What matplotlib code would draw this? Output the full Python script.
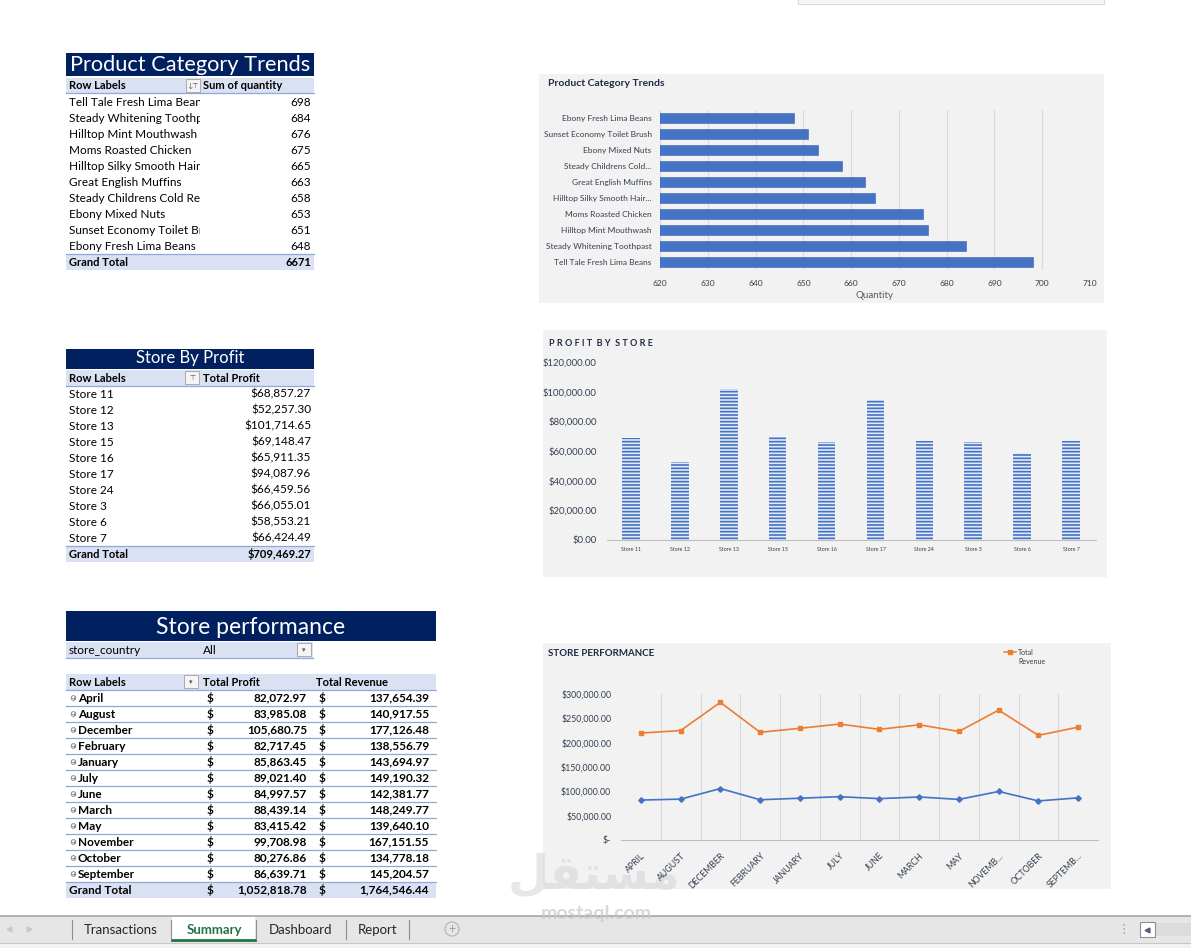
import matplotlib.pyplot as plt
from matplotlib.patches import Rectangle, Circle

plt.rcParams['font.family'] = ['Lato', 'DejaVu Sans']
plt.rcParams['hatch.linewidth'] = 1.2

W, H = 1191, 948

# ---- data ----
products = ["Tell Tale Fresh Lima Beans", "Steady Whitening Toothpaste", "Hilltop Mint Mouthwash",
            "Moms Roasted Chicken", "Hilltop Silky Smooth Hair Conditioner", "Great English Muffins",
            "Steady Childrens Cold Remedy", "Ebony Mixed Nuts", "Sunset Economy Toilet Brush",
            "Ebony Fresh Lima Beans"]
quantities = [698, 684, 676, 675, 665, 663, 658, 653, 651, 648]
product_ticks = ["Tell Tale Fresh Lima Beans", "Steady Whitening Toothpast", "Hilltop Mint Mouthwash",
                 "Moms Roasted Chicken", "Hilltop Silky Smooth Hair...", "Great English Muffins",
                 "Steady Childrens Cold...", "Ebony Mixed Nuts", "Sunset Economy Toilet Brush",
                 "Ebony Fresh Lima Beans"]
qty_ticks = [620, 630, 640, 650, 660, 670, 680, 690, 700, 710]

stores = ["Store 11", "Store 12", "Store 13", "Store 15", "Store 16", "Store 17",
          "Store 24", "Store 3", "Store 6", "Store 7"]
store_profit = [68857.27, 52257.30, 101714.65, 69148.47, 65911.35, 94087.96,
                66459.56, 66055.01, 58553.21, 66424.49]
profit_ticks = [0, 20000, 40000, 60000, 80000, 100000, 120000]

months = ["April", "August", "December", "February", "January", "July", "June",
          "March", "May", "November", "October", "September"]
month_profit = [82072.97, 83985.08, 105680.75, 82717.45, 85863.45, 89021.40, 84997.57,
                88439.14, 83415.42, 99708.98, 80276.86, 86639.71]
month_revenue = [137654.39, 140917.55, 177126.48, 138556.79, 143694.97, 149190.32, 142381.77,
                 148249.77, 139640.10, 167151.55, 134778.18, 145204.57]
month_ticks = ["APRIL", "AUGUST", "DECEMBER", "FEBRUARY", "JANUARY", "JULY", "JUNE",
               "MARCH", "MAY", "NOVEMB...", "OCTOBER", "SEPTEMB..."]
perf_ticks = [0, 50000, 100000, 150000, 200000, 250000, 300000]

NAVY = '#002060'
LBLUE = '#D9E1F2'
BORDER = '#8EA9DB'
BLUE = '#4472C4'
ORANGE = '#ED7D31'
TXT = '#1F2A44'
TICK = '#333F50'

fig = plt.figure(figsize=(W / 100, H / 100), dpi=100)
fig.patch.set_facecolor('white')

bg = fig.add_axes([0, 0, 1, 1])
bg.set_xlim(0, W)
bg.set_ylim(H, 0)
bg.axis('off')


def px_axes(x0, y0, x1, y1):
    return fig.add_axes([x0 / W, 1 - y1 / H, (x1 - x0) / W, (y1 - y0) / H])


def box(x0, y0, x1, y1, fc, ec='none', lw=0, z=1):
    bg.add_patch(Rectangle((x0, y0), x1 - x0, y1 - y0, facecolor=fc, edgecolor=ec, linewidth=lw, zorder=z))


def hline(x0, x1, y, c=BORDER, lw=0.9):
    bg.plot([x0, x1], [y, y], color=c, lw=lw, zorder=3)


def dropdown(x0, y0, sym='\u25be'):
    box(x0, y0, x0 + 14, y0 + 13, '#F4F4F4', '#A0A0A0', 0.6, z=3)
    bg.text(x0 + 7, y0 + 6.5, sym, fontsize=5, color='#555555', ha='center', va='center', zorder=4)


# top-right partial chart box
box(798, -5, 1104, 4, '#F7F7F7', '#DADADA', 0.8)

# ---- table 1 ----
box(66, 53, 314, 76, NAVY)
bg.text(190, 64.5, "Product Category Trends", color='white', fontsize=15.7, ha='center', va='center', zorder=4)
box(66, 78, 314, 93, LBLUE)
hline(66, 314, 93)
bg.text(69, 85.5, "Row Labels", fontsize=8, weight='bold', va='center', zorder=4)
dropdown(186, 79, '\u2193\u22a4')
bg.text(203, 85.5, "Sum of quantity", fontsize=8, weight='bold', va='center', zorder=4)
clip1 = Rectangle((66, 94), 134, 170, transform=bg.transData)
for i, (p, q) in enumerate(zip(products, quantities)):
    y = 102 + 16 * i
    t = bg.text(69, y, p, fontsize=8.5, va='center', zorder=4)
    t.set_clip_path(clip1)
    t.set_clip_on(True)
    bg.text(311, y, str(q), fontsize=8.5, ha='right', va='center', zorder=4)
box(66, 254, 314, 270, LBLUE)
hline(66, 314, 254)
bg.text(69, 262, "Grand Total", fontsize=8, weight='bold', va='center', zorder=4)
bg.text(311, 262, str(sum(quantities)), fontsize=8, weight='bold', ha='right', va='center', zorder=4)

# ---- table 2 ----
box(66, 349, 314, 369, NAVY)
bg.text(190, 358.5, "Store By Profit", color='white', fontsize=12, ha='center', va='center', zorder=4)
box(66, 370, 314, 386, LBLUE)
hline(66, 314, 386)
bg.text(69, 378, "Row Labels", fontsize=8, weight='bold', va='center', zorder=4)
dropdown(185, 371, '\u22a4')
bg.text(203, 378, "Total Profit", fontsize=8, weight='bold', va='center', zorder=4)
for i, (s, v) in enumerate(zip(stores, store_profit)):
    y = 394 + 16 * i
    bg.text(69, y, s, fontsize=8.5, va='center', zorder=4)
    bg.text(311, y, "${:,.2f}".format(v), fontsize=8.5, ha='right', va='center', zorder=4)
box(66, 546, 314, 562, LBLUE)
hline(66, 314, 546)
bg.text(69, 554, "Grand Total", fontsize=8, weight='bold', va='center', zorder=4)
bg.text(311, 554, "${:,.2f}".format(round(sum(store_profit), 2)), fontsize=8, weight='bold',
        ha='right', va='center', zorder=4)

# ---- table 3 ----
box(66, 611, 436, 641, NAVY)
bg.text(251, 627, "Store performance", color='white', fontsize=16.5, ha='center', va='center', zorder=4)
box(66, 642, 313, 658, LBLUE)
hline(66, 313, 658)
bg.text(69, 650, "store_country", fontsize=8.5, va='center', zorder=4)
bg.text(203, 650, "All", fontsize=8.5, va='center', zorder=4)
dropdown(297, 643)
box(66, 674, 436, 690, LBLUE)
hline(66, 436, 690)
bg.text(69, 682, "Row Labels", fontsize=8, weight='bold', va='center', zorder=4)
dropdown(184, 675)
bg.text(203, 682, "Total Profit", fontsize=8, weight='bold', va='center', zorder=4)
bg.text(316, 682, "Total Revenue", fontsize=8, weight='bold', va='center', zorder=4)
for i, m in enumerate(months):
    y = 698 + 16 * i
    bg.add_patch(Circle((73.5, y), 2.3, facecolor='none', edgecolor='#777777', lw=0.6, zorder=4))
    bg.plot([72.3, 74.7], [y, y], color='#777777', lw=0.5, zorder=4)
    bg.plot([73.5, 73.5], [y - 1.2, y + 1.2], color='#777777', lw=0.5, zorder=4)
    bg.text(78, y, m, fontsize=8.5, weight='bold', va='center', zorder=4)
    bg.text(207, y, "$", fontsize=8.5, weight='bold', va='center', zorder=4)
    bg.text(307, y, "{:,.2f}".format(month_profit[i]), fontsize=8.5, weight='bold', ha='right', va='center',
            zorder=4)
    bg.text(319, y, "$", fontsize=8.5, weight='bold', va='center', zorder=4)
    bg.text(429, y, "{:,.2f}".format(month_revenue[i]), fontsize=8.5, weight='bold', ha='right', va='center',
            zorder=4)
    hline(66, 436, y + 8)
box(66, 882, 436, 898, LBLUE)
bg.text(69, 890, "Grand Total", fontsize=8.5, weight='bold', va='center', zorder=4)
bg.text(207, 890, "$", fontsize=8.5, weight='bold', va='center', zorder=4)
bg.text(307, 890, "{:,.2f}".format(round(sum(month_profit), 2)), fontsize=8.5, weight='bold',
        ha='right', va='center', zorder=4)
bg.text(319, 890, "$", fontsize=8.5, weight='bold', va='center', zorder=4)
bg.text(429, 890, "{:,.2f}".format(round(sum(month_revenue), 2)), fontsize=8.5, weight='bold',
        ha='right', va='center', zorder=4)

# ---- chart 1: product category trends ----
box(539, 74, 1104, 303, '#F2F2F2')
bg.text(548, 83, "Product Category Trends", fontsize=7.5, weight='bold', color=TXT, va='center', zorder=4)
ax1 = px_axes(660, 110, 1090, 270)
ax1.set_facecolor('none')
ax1.barh(range(len(quantities)), quantities, height=0.58, color=BLUE, edgecolor='#3A62AE', linewidth=0.4,
         zorder=3)
ax1.set_xlim(620, 710)
ax1.set_ylim(-0.5, len(quantities) - 0.5)
ax1.set_xticks(qty_ticks)
ax1.set_yticks(range(len(product_ticks)))
ax1.set_yticklabels(product_ticks)
ax1.grid(axis='x', color='#D9D9D9', lw=0.8, zorder=0)
for sp in ax1.spines.values():
    sp.set_visible(False)
ax1.tick_params(length=0, labelsize=6, colors=TICK, pad=6)
ax1.tick_params(axis='x', pad=7)
ax1.set_xlabel("Quantity", fontsize=7, color='#595959', labelpad=3)

# ---- chart 2: profit by store ----
box(543, 330, 1107, 577, '#F2F2F2')
bg.text(549, 343, "P R O F I T  B Y  S T O R E", fontsize=6.5, weight='bold',
        color=TXT, va='center', zorder=4)
ax2 = px_axes(606.5, 362, 1095.5, 540)
ax2.set_facecolor('none')
ax2.bar(range(len(store_profit)), store_profit, width=0.36, color='#E4EAF6', edgecolor=BLUE,
        hatch='-----', linewidth=0, zorder=3)
ax2.set_xlim(-0.5, len(stores) - 0.5)
ax2.set_ylim(0, 120000)
ax2.set_yticks(profit_ticks)
ax2.set_yticklabels(["${:,.2f}".format(v) for v in profit_ticks])
ax2.set_xticks(range(len(stores)))
ax2.set_xticklabels(stores)
for k in ['top', 'right', 'left']:
    ax2.spines[k].set_visible(False)
ax2.spines['bottom'].set_color('#BFBFBF')
ax2.tick_params(length=0, colors=TICK)
ax2.tick_params(axis='y', labelsize=6.8, pad=7)
ax2.tick_params(axis='x', labelsize=3.8, pad=5)

# ---- chart 3: store performance ----
box(543, 643, 1111, 889, '#F2F2F2')
bg.text(548, 654, "STORE PERFORMANCE", fontsize=7, weight='bold', color=TXT, va='center', zorder=4)
ax3 = px_axes(621, 694, 1098, 840)
ax3.set_facecolor('none')
x = range(len(months))
stacked = [p + r for p, r in zip(month_profit, month_revenue)]
ax3.plot(x, month_profit, color=BLUE, lw=1.2, marker='D', ms=2.8, zorder=3)
ax3.plot(x, stacked, color=ORANGE, lw=1.2, marker='s', ms=3.2, zorder=3)
ax3.set_xlim(-0.5, len(months) - 0.5)
ax3.set_ylim(0, 300000)
ax3.set_yticks(perf_ticks)
ax3.set_yticklabels(["$-" if v == 0 else "${:,.2f}".format(v) for v in perf_ticks])
ax3.set_xticks(list(x))
ax3.set_xticklabels(month_ticks, rotation=45, ha='right', rotation_mode='anchor')
for g in range(len(months)):
    ax3.axvline(g + 0.5, color='#D9D9D9', lw=0.8, zorder=0)
for k in ['top', 'right', 'left']:
    ax3.spines[k].set_visible(False)
ax3.spines['bottom'].set_color('#BFBFBF')
ax3.tick_params(length=0, colors=TICK)
ax3.tick_params(axis='y', labelsize=6.3, pad=7)
ax3.tick_params(axis='x', labelsize=6.3, pad=8)

# legend (only the revenue entry is visible in the chart)
bg.plot([1004, 1016], [652, 652], color=ORANGE, lw=1.1, zorder=5)
bg.plot([1010], [652], color=ORANGE, marker='s', ms=3, zorder=5)
bg.text(1018, 652.5, "Total", fontsize=5, color=TICK, va='center', zorder=5)
bg.text(1018, 662, "Revenue", fontsize=5, color=TICK, va='center', zorder=5)

# ---- watermark ----
bg.text(594, 876, "\uFEDE\uFED8\uFE98\uFEB4\uFEE3", family='DejaVu Sans', fontsize=34, weight='bold',
        color='#D4D4D4', alpha=0.55, ha='center', va='center', zorder=6)
bg.text(596, 913, "mostaql.com", fontsize=14, color='#C8C8C8', alpha=0.7, ha='center', va='center',
        weight='bold', zorder=6)

# ---- sheet tab bar ----
box(0, 916, W, 943, '#E6E6E6', z=2)
box(0, 943, W, H, '#F3F3F3', z=2)
hline(0, W, 916, c='#A6A6A6', lw=1.2)
hline(0, W, 943, c='#C8C8C8', lw=0.8)
bg.plot([9], [929], marker='<', ms=3.5, color='#C8C8C8', zorder=4)
bg.plot([29], [929], marker='>', ms=3.5, color='#C8C8C8', zorder=4)
box(172, 917, 255, 941, 'white', z=3)
bg.plot([172, 255], [940, 940], color='#217346', lw=2, zorder=4)
for sx in [72, 171, 256, 346, 409]:
    bg.plot([sx, sx], [920, 939], color='#8C8C8C', lw=0.8, zorder=4)
bg.text(121, 929.5, "Transactions", fontsize=9.5, color='#262626', ha='center', va='center', zorder=4)
bg.text(214, 929.5, "Summary", fontsize=9.5, weight='bold', color='#217346', ha='center', va='center', zorder=4)
bg.text(300, 929.5, "Dashboard", fontsize=9.5, color='#262626', ha='center', va='center', zorder=4)
bg.text(378, 929.5, "Report", fontsize=9.5, color='#262626', ha='center', va='center', zorder=4)
bg.add_patch(Circle((452, 929), 7, facecolor='none', edgecolor='#B0B0B0', lw=0.8, zorder=4))
bg.text(452, 929, "+", fontsize=9, color='#A0A0A0', ha='center', va='center', zorder=4)
bg.text(1124, 929, "\u22ee", fontsize=9, color='#9A9A9A', ha='center', va='center', zorder=4)
box(1140, 922, 1155, 937, 'white', '#909090', 0.8, z=4)
bg.plot([1147], [929.5], marker='<', ms=3.5, color='#555F70', zorder=5)
box(1156, 923, W, 936, '#DCDCDC', z=3)

plt.savefig('out.png', dpi=100)
